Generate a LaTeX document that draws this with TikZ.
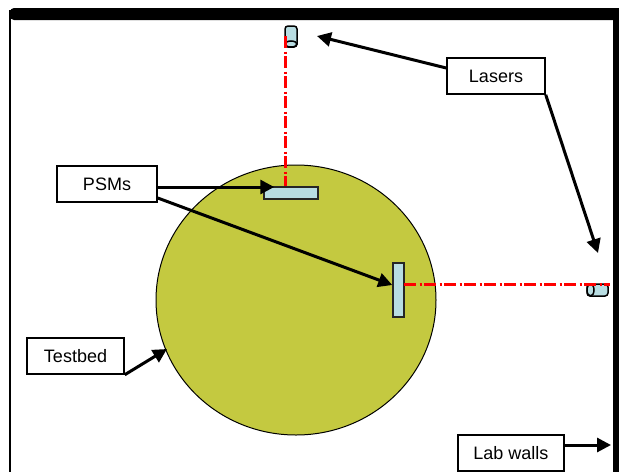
\documentclass[tikz,border=0pt]{standalone}
\usepackage{fontspec}
\setmainfont{Liberation Sans}
\usepackage{tikz}
\usetikzlibrary{shapes.geometric, arrows.meta, positioning}
\definecolor{psmblue}{RGB}{184,221,226}
\definecolor{bedgreen}{RGB}{196,201,64}
\tikzstyle{labelbox} = [rectangle, minimum width=98pt, minimum height=36pt, inner sep=0pt, text centered, draw=black, line width=1.5pt, fill=white, font=\fontsize{18}{21}\selectfont]
\tikzstyle{psm} = [rectangle, inner sep=0pt, draw=black!85, line width=1.5pt, fill=psmblue]
\tikzstyle{laser} = [rectangle, rounded corners=3pt, inner sep=0pt, draw=black, line width=1.5pt, fill=psmblue]
\tikzstyle{laserend} = [ellipse, inner sep=0pt, draw=black, line width=1.5pt, fill=psmblue]
\tikzstyle{arrow} = [line width=3pt,-{Triangle[length=14pt,width=14pt]}]
\tikzstyle{beam} = [line width=3pt,draw=red,dash pattern=on 12pt off 3.5pt on 2.5pt off 2pt]
\begin{document}
\begin{tikzpicture}[x=1pt, y=-1pt]
	\useasboundingbox (0,0) rectangle (619,472);

	% Lab walls
	\fill [black, rounded corners=4pt] (10,8) rectangle (630,20);
	\fill [black] (613,8) rectangle (619,472);
	\draw [line width=1.6pt] (10,10) -- (10,472);

	% Testbed
	\node (bed) [ellipse, minimum width=280pt, minimum height=270pt, inner sep=0pt, draw=black, line width=1pt, fill=bedgreen] at (296,300) {};

	% Lasers and PSMs
	\node (lasertop) [laser, minimum width=12pt, minimum height=21pt] at (291,36.5) {};
	\node (lasertopend) [laserend, minimum width=12pt, minimum height=6pt] at (291,44) {};
	\node (laserside) [laser, minimum width=21pt, minimum height=12pt] at (597.5,290) {};
	\node (lasersideend) [laserend, minimum width=7pt, minimum height=12pt] at (590.5,290) {};
	\node (psmtop) [psm, minimum width=54pt, minimum height=12pt] at (291,193) {};
	\node (psmside) [psm, minimum width=11pt, minimum height=54pt] at (398.5,290) {};

	% Beams
	\coordinate (topstart) at (285,36);
	\coordinate (sidestart) at (404,284);
	\coordinate (sideend) at (610,284);
	\draw [beam] (topstart) -- (topstart |- psmtop.north);
	\draw [beam] (sidestart) -- (sideend);

	% Labels
	\node (lasers) [labelbox] at (496,76) {Lasers};
	\node (psms) [labelbox, minimum width=100pt] at (107,184) {PSMs};
	\node (testbed) [labelbox, minimum width=97pt] at (75.5,356) {Testbed};
	\node (walls) [labelbox, minimum width=106pt] at (511,453) {Lab walls};

	% Arrows
	\coordinate (laserstip) at (317,36);
	\coordinate (sidetip) at (598,253);
	\coordinate (bedtip) at (167,349);
	\coordinate (wallstip) at (611,445);
	\draw [arrow] (lasers.west |- 0,68) -- (laserstip);
	\draw [arrow] (lasers.south east) -- (sidetip);
	\draw [arrow] (psms.east |- 0,187) -- (psmtop.west |- 0,187) -- ++(11,0);
	\draw [arrow] (psms.east |- 0,198) -- (psmside.west |- 0,285);
	\draw [arrow] (testbed.south east) -- (bedtip);
	\draw [arrow] (walls.east |- 0,445) -- (wallstip);
\end{tikzpicture}
\end{document}
